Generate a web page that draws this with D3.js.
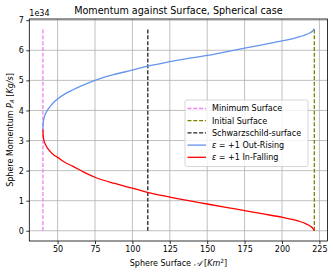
<!DOCTYPE html>
<html>
<head>
<meta charset="utf-8">
<script src="https://cdn.jsdelivr.net/npm/d3@7"></script>
<style>
  body { margin: 0; background: #fff; }
  text { font-family: "DejaVu Sans", sans-serif; fill: #000; }
</style>
</head>
<body>
<div id="chart"></div>
<script>
var W = 333, H = 275,
  margin = { top: 19, right: 5.5, bottom: 34, left: 29.3 },
  width = W - margin.left - margin.right,
  height = H - margin.top - margin.bottom,
  fs = "8px";

// sphere surface (Km^2) and momentum (units of 1e34 Kg/s)
var surface = [40.2, 40.3, 40.6, 41, 42, 43.5, 45, 47.5, 50, 55, 60, 67.5, 75, 87.5, 100, 110,
  125, 137.5, 150, 162.5, 175, 187.5, 200, 207.5, 212.5, 216, 219, 220.5, 221.6];
var outRising = [3.37, 3.52, 3.66, 3.76, 3.90, 4.03, 4.13, 4.27, 4.38, 4.55, 4.68, 4.85, 5.00, 5.19, 5.34, 5.47,
  5.62, 5.73, 5.83, 5.95, 6.07, 6.19, 6.31, 6.39, 6.46, 6.52, 6.59, 6.64, 6.72];
var inFalling = [3.37, 3.22, 3.08, 2.98, 2.86, 2.73, 2.64, 2.52, 2.44, 2.27, 2.15, 1.95, 1.78, 1.58, 1.42, 1.28,
  1.12, 1.00, 0.89, 0.78, 0.67, 0.56, 0.45, 0.37, 0.30, 0.23, 0.15, 0.09, 0.0];
var minSurface = 40.2, initSurface = 221.6, schwSurface = 110.3;
var xTicks = [50, 75, 100, 125, 150, 175, 200, 225],
  yTicks = [0, 1, 2, 3, 4, 5, 6, 7];

var svg = d3.select("#chart").append("svg")
  .attr("width", W).attr("height", H);
var g = svg.append("g")
  .attr("transform", "translate(" + margin.left + "," + margin.top + ")");

var x = d3.scaleLinear().domain([31.1, 230.4]).range([0, width]);
var y = d3.scaleLinear().domain([-0.34, 7.04]).range([height, 0]);

// grid
g.selectAll(".gx").data(xTicks).enter().append("line")
  .attr("x1", function(d){ return x(d); }).attr("x2", function(d){ return x(d); })
  .attr("y1", 0).attr("y2", height)
  .attr("stroke", "#b0b0b0").attr("stroke-width", 0.8);
g.selectAll(".gy").data(yTicks).enter().append("line")
  .attr("y1", function(d){ return y(d); }).attr("y2", function(d){ return y(d); })
  .attr("x1", 0).attr("x2", width)
  .attr("stroke", "#b0b0b0").attr("stroke-width", 0.8);

// axes
var xAxis = g.append("g").attr("transform", "translate(0," + height + ")")
  .call(d3.axisBottom(x).tickValues(xTicks).tickSize(3).tickPadding(2.5).tickSizeOuter(0));
var yAxis = g.append("g")
  .call(d3.axisLeft(y).tickValues(yTicks).tickSize(3).tickPadding(2.5).tickSizeOuter(0));
[xAxis, yAxis].forEach(function(a){
  a.select(".domain").remove();
  a.selectAll("text").style("font-size", fs).style("font-family", "DejaVu Sans");
  a.selectAll("line").attr("stroke", "#000").attr("stroke-width", 0.8);
});

// vertical reference lines
var vlines = [
  { x: minSurface, color: "violet", dash: "4,1.8" },
  { x: initSurface, color: "olive", dash: "4,1.8" },
  { x: schwSurface, color: "#222", dash: "4,1.8" }
];
var yTop = d3.max(outRising);
g.selectAll(".vl").data(vlines).enter().append("line")
  .attr("x1", function(d){ return x(d.x); }).attr("x2", function(d){ return x(d.x); })
  .attr("y1", y(0)).attr("y2", y(yTop))
  .attr("stroke", function(d){ return d.color; })
  .attr("stroke-width", 1.3)
  .attr("stroke-dasharray", function(d){ return d.dash; });

var line = d3.line().curve(d3.curveMonotoneX)
  .x(function(d, i){ return x(surface[i]); })
  .y(function(d){ return y(d); });
g.append("path").datum(outRising).attr("d", line)
  .attr("fill", "none").attr("stroke", "cornflowerblue").attr("stroke-width", 1.3);
g.append("path").datum(inFalling).attr("d", line)
  .attr("fill", "none").attr("stroke", "red").attr("stroke-width", 1.3);

// frame
g.append("rect").attr("width", width).attr("height", height)
  .attr("fill", "none").attr("stroke", "#000").attr("stroke-width", 0.8);

// title and labels
svg.append("text").attr("x", margin.left + width / 2).attr("y", 13.5)
  .attr("text-anchor", "middle").style("font-size", "9.6px")
  .text("Momentum against Surface, Spherical case");
svg.append("text").attr("x", margin.left).attr("y", 16)
  .style("font-size", fs).text("1e34");

var xl = svg.append("text").attr("x", margin.left + width / 2).attr("y", 266)
  .attr("text-anchor", "middle").style("font-size", fs);
xl.append("tspan").text("Sphere Surface ");
xl.append("tspan").style("font-style", "italic").style("font-family", "DejaVu Serif").text("\uD835\uDC9C");
xl.append("tspan").text(" [");
xl.append("tspan").style("font-style", "italic").text("Km");
xl.append("tspan").attr("dy", -3.2).style("font-size", "5.8px").text("2");
xl.append("tspan").attr("dy", 3.2).text("]");

var yl = svg.append("text")
  .attr("transform", "translate(12.5," + (margin.top + height / 2) + ") rotate(-90)")
  .attr("text-anchor", "middle").style("font-size", fs);
yl.append("tspan").text("Sphere Momentum ");
yl.append("tspan").style("font-style", "italic").text("P");
yl.append("tspan").attr("dy", 1.9).style("font-size", "5.8px").style("font-style", "italic").text("A");
yl.append("tspan").attr("dy", -1.9).text(" [");
yl.append("tspan").style("font-style", "italic").text("Kg/s");
yl.append("tspan").text("]");

// legend
var legendItems = [
  { label: "Minimum Surface", color: "violet", dash: "4,1.8" },
  { label: "Initial Surface", color: "olive", dash: "4,1.8" },
  { label: "Schwarzschild-surface", color: "#222", dash: "4,1.8" },
  { label: " = +1 Out-Rising", color: "cornflowerblue", dash: null, eps: true },
  { label: " = +1 In-Falling", color: "red", dash: null, eps: true }
];
var lg = svg.append("g").attr("transform", "translate(185,100)");
lg.append("rect").attr("width", 123).attr("height", 66.5).attr("rx", 2)
  .attr("fill", "#fff").attr("fill-opacity", 0.8)
  .attr("stroke", "#ccc").attr("stroke-width", 0.8);
var li = lg.selectAll(".li").data(legendItems).enter().append("g")
  .attr("transform", function(d, i){ return "translate(0," + (8.5 + i * 12.2) + ")"; });
li.append("line").attr("x1", 2.5).attr("x2", 21)
  .attr("stroke", function(d){ return d.color; }).attr("stroke-width", 1.3)
  .attr("stroke-dasharray", function(d){ return d.dash; });
var lt = li.append("text").attr("x", 27).attr("y", 2.8).style("font-size", fs);
lt.each(function(d){
  var t = d3.select(this);
  if (d.eps) t.append("tspan").style("font-style", "italic").text("\u03B5");
  t.append("tspan").text(d.label);
});
</script>
</body>
</html>
